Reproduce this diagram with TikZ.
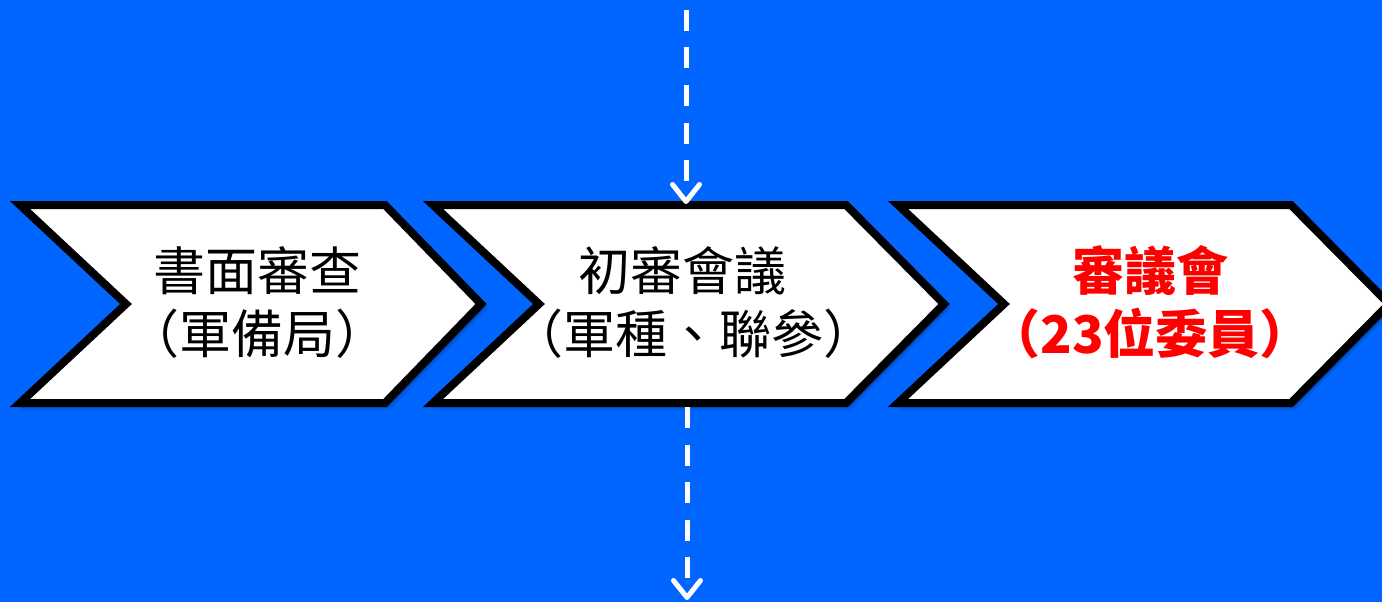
\documentclass[tikz,border=0pt]{standalone}
\usepackage{fontspec}
\newfontfamily\cjk{Noto Sans CJK TC}
\usetikzlibrary{arrows.meta,shadows.blur}
\definecolor{bgblue}{RGB}{0,102,255}
\definecolor{redtxt}{RGB}{255,0,0}
\tikzset{
  chev/.style={draw=black, line width=8pt, fill=white, line join=miter,
    blur shadow={shadow xshift=3pt, shadow yshift=-3pt, shadow blur radius=4pt, shadow opacity=60}},
  lbl/.style={font=\cjk\fontsize{52}{63}\selectfont, inner sep=0pt, text=black},
  lblred/.style={font=\cjk\bfseries\fontsize{52}{63}\selectfont, inner sep=0pt, text=redtxt},
  flow/.style={draw=white, line width=5pt, dash pattern=on 21pt off 16.5pt,
    -{Straight Barb[length=17pt,width=27pt,round]}}
}
\begin{document}
\begin{tikzpicture}[x=1pt,y=-1pt]
  \useasboundingbox (0,0) rectangle (1382,602);
  \fill[bgblue] (0,0) rectangle (1382,602);
  \clip (0,0) rectangle (1382,602);
  % chevrons
  \path[chev] (20,205) -- (385,205) -- (481,304) -- (385,403) -- (20,403) -- (126,304) -- cycle;
  \path[chev] (433,205) -- (846,205) -- (944,304) -- (846,403) -- (433,403) -- (539,304) -- cycle;
  \path[chev] (898,205) -- (1291,205) -- (1389,304) -- (1291,403) -- (898,403) -- (1004,304) -- cycle;
  % labels
  \node[lbl] (t1a) at (257,271) {書面審查};
  \node[lbl] (t1b) at (257,334) {（軍備局）};
  \node[lbl] (t2a) at (682,271) {初審會議};
  \node[lbl] (t2b) at (693,334) {（軍種、聯參）};
  \node[lblred] (t3a) at (1150,271) {審議會};
  \node[lblred] (t3b) at (1150,333) {（23位委員）};
  % connectors
  \coordinate (src) at (686,10);
  \coordinate (c2top) at (686,204);
  \coordinate (c2bot) at (687,407);
  \coordinate (sink) at (687,600);
  \draw[flow] (src) -- (c2top);
  \draw[flow] (c2bot) -- (sink);
\end{tikzpicture}
\end{document}
